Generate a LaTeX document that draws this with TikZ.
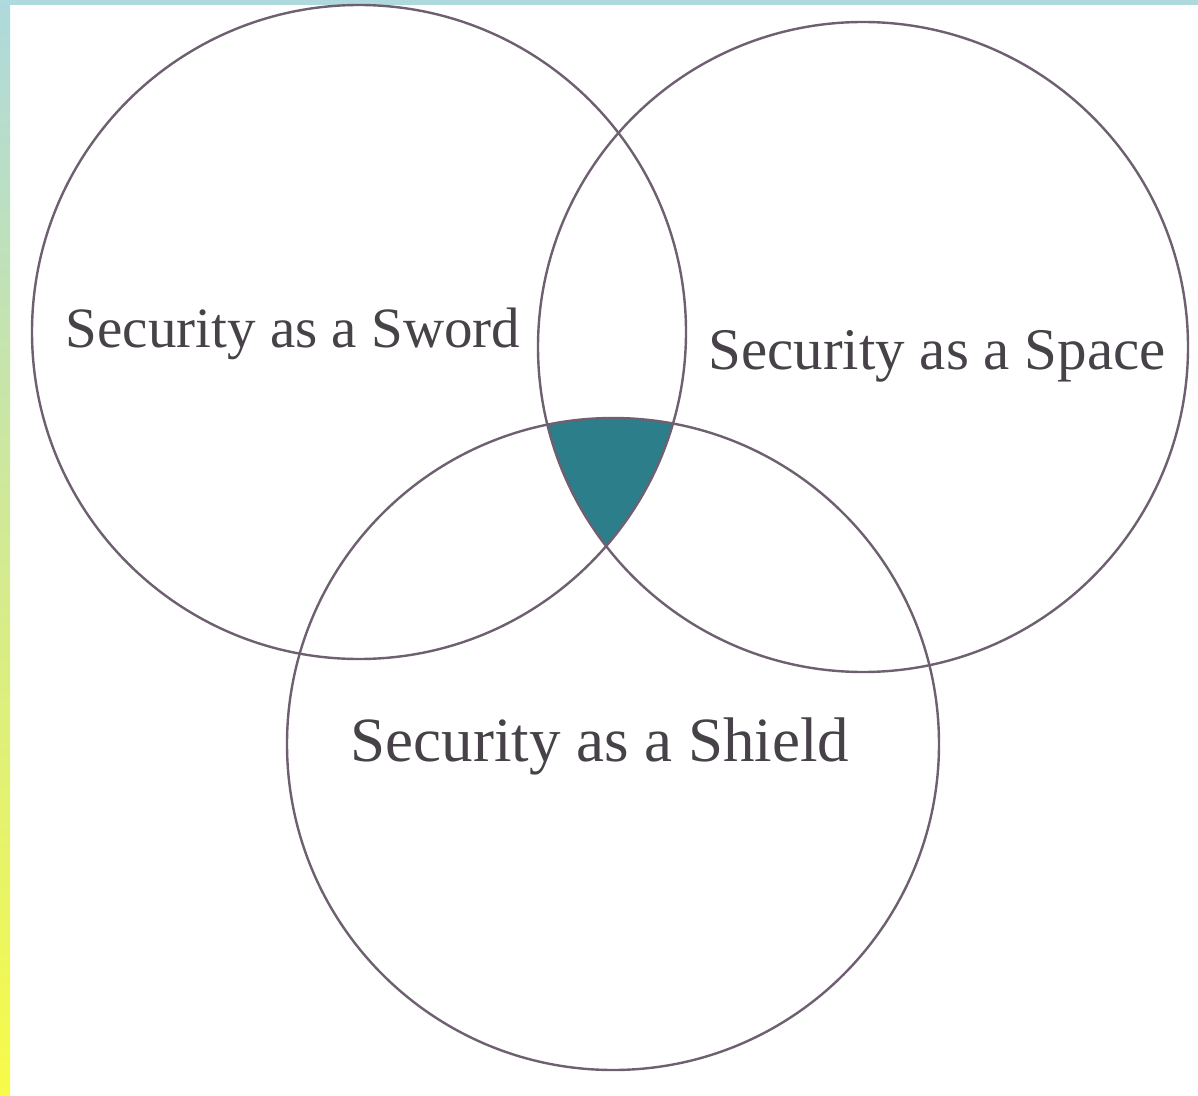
\documentclass[tikz,border=0pt]{standalone}
\usepackage{fontspec}
\setmainfont{Liberation Serif}
\begin{document}
\begin{tikzpicture}[x=0.5pt,y=-0.5pt,
  ring/.style={draw=ringc, line width=1.2pt},
  lbl/.style={text=txtc, inner sep=0pt}]
\definecolor{ringc}{RGB}{110,96,112}
\definecolor{txtc}{RGB}{70,66,72}
\definecolor{tealc}{RGB}{44,126,138}
\definecolor{stripblue}{RGB}{174,217,221}
\definecolor{stripmid}{RGB}{224,241,240}
\definecolor{stripyel}{RGB}{247,251,72}
\useasboundingbox (0,0) rectangle (1198,1096);
\fill[white] (0,0) rectangle (1198,1096);
\shade[top color=stripblue, middle color=stripmid, bottom color=stripyel] (0,0) rectangle (10,1096);
\fill[stripblue] (0,0) rectangle (1198,5);
\coordinate (cA) at (359,332);
\coordinate (cB) at (863,347);
\coordinate (cC) at (613,744);
\begin{scope}
  \clip (cA) circle [radius=163.5pt];
  \clip (cB) circle [radius=162.5pt];
  \fill[tealc] (cC) circle [radius=163pt];
\end{scope}
\draw[ring] (cA) circle [radius=163.5pt];
\draw[ring] (cB) circle [radius=162.5pt];
\draw[ring] (cC) circle [radius=163pt];
\node[lbl, font=\fontsize{28.5}{32}\selectfont] (sword) at (293,334) {Security as a Sword};
\node[lbl, font=\fontsize{29.5}{33}\selectfont] (space) at (937,356) {Security as a Space};
\node[lbl, font=\fontsize{31.5}{35}\selectfont] (shield) at (600,746) {Security as a Shield};
\end{tikzpicture}
\end{document}
